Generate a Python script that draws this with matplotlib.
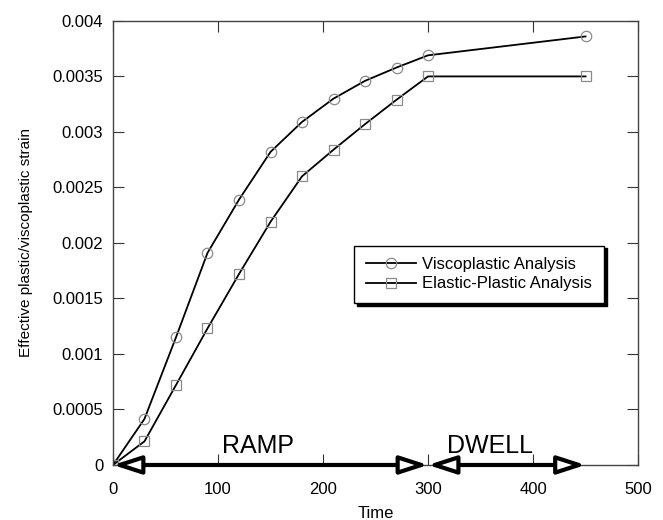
#!/usr/bin/env python3
"""
Effective plastic/viscoplastic strain vs time (ramp + dwell)
"""
import matplotlib
matplotlib.use('Agg')
import matplotlib.pyplot as plt
from matplotlib.ticker import FuncFormatter

plt.rcParams['font.family'] = ['Liberation Sans', 'DejaVu Sans']

time = [0, 30, 60, 90, 120, 150, 180, 210, 240, 270, 300, 450]
visco = [0, 0.000415, 0.00115, 0.00191, 0.00239, 0.00282, 0.00309, 0.0033,
         0.00346, 0.00358, 0.00369, 0.00386]
elastic = [0, 0.000213, 0.00072, 0.00123, 0.00172, 0.00219, 0.0026, 0.00284,
           0.00307, 0.00329, 0.0035, 0.0035]

phases = ['RAMP', 'DWELL']
phase_start = [0, 300]
phase_end = [300, 450]
phase_label_x = [138, 359]

fig = plt.figure(figsize=(6.63, 5.2), dpi=100)
ax = fig.add_axes([0.1704, 0.1058, 0.792, 0.854])

ax.plot(time, visco, color='black', linewidth=1.3, marker='o', markersize=7.5,
        markerfacecolor='none', markeredgecolor='#8a8a8a', markeredgewidth=0.9,
        label='Viscoplastic Analysis')
ax.plot(time, elastic, color='black', linewidth=1.3, marker='s', markersize=7,
        markerfacecolor='none', markeredgecolor='#8a8a8a', markeredgewidth=0.9,
        label='Elastic-Plastic Analysis')

# phase arrows along the time axis
for name, x0, x1, xt in zip(phases, phase_start, phase_end, phase_label_x):
    ax.annotate('', xy=(x1, 0), xytext=(x0, 0), annotation_clip=False,
                arrowprops=dict(arrowstyle='<|-|>,head_length=1.7,head_width=0.55',
                                fc='white', ec='black', lw=3, shrinkA=0, shrinkB=0))
    ax.text(xt, 0.00017, name, fontsize=18, ha='center', va='center')

ax.set_xlim(0, 500)
ax.set_ylim(0, 0.004)
ax.set_xticks([0, 100, 200, 300, 400, 500])
ax.set_yticks([0, 0.0005, 0.001, 0.0015, 0.002, 0.0025, 0.003, 0.0035, 0.004])
ax.yaxis.set_major_formatter(FuncFormatter(lambda v, p: '%g' % v))
ax.tick_params(direction='in', length=8, width=0.8, top=True, right=True,
               labelsize=12, colors='#333333', labelcolor='black')
ax.tick_params(axis='x', pad=12)
ax.tick_params(axis='y', pad=7)
for sp in ax.spines.values():
    sp.set_color('#444444')
    sp.set_linewidth(1)

ax.set_xlabel('Time', fontsize=12, labelpad=7)
ax.set_ylabel('Effective plastic/viscoplastic strain', fontsize=11, labelpad=14)

leg = ax.legend(loc='upper left', bbox_to_anchor=(0.443, 0.513), fontsize=12,
                fancybox=False, shadow={'color': 'black', 'alpha': 1},
                edgecolor='black', framealpha=1, handlelength=3.0,
                borderpad=0.7, labelspacing=0.25, handletextpad=0.4)
leg.get_frame().set_linewidth(1)

fig.savefig('out.png', dpi=100)
